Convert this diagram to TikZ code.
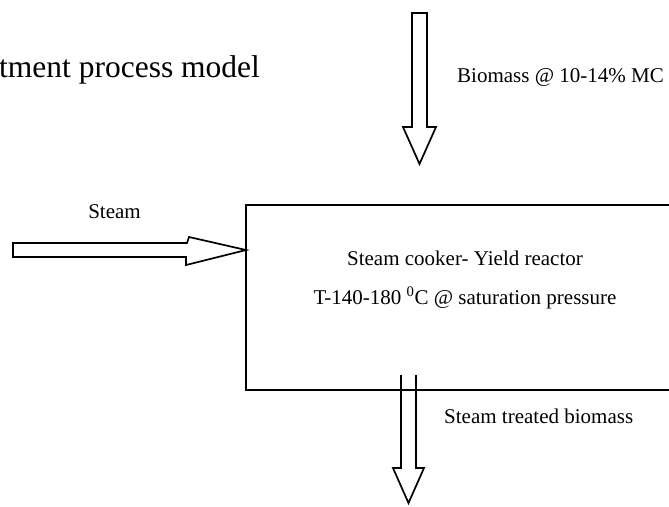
\documentclass[tikz,border=0pt]{standalone}
\usepackage{fontspec}
\setmainfont{Liberation Serif}
\begin{document}
\begin{tikzpicture}[x=1pt,y=-1pt,
  blockarrow/.style={draw=black, line width=1.7pt, fill=white, line join=miter},
  reactorbox/.style={draw=black, line width=1.9pt, fill=none, inner sep=0pt},
  lbl/.style={font=\fontsize{21}{25}\selectfont, inner sep=0pt},
  titlefont/.style={font=\fontsize{31.5}{36}\selectfont, inner sep=0pt}]
\useasboundingbox (0,0) rectangle (669,506);
\clip (0,0) rectangle (669,506);

% title (cut off at the left edge)
\node[titlefont, anchor=base west] (title) at (-1,77) {tment process model};

% reactor box (right edge lies outside the picture)
\node[reactorbox, anchor=north west, minimum width=470pt, minimum height=185pt] (reactor) at (245,204) {};
\node[lbl] (line1) at (465,258) {Steam cooker- Yield reactor};
\node[lbl] (line2) at (465,298) {T-140-180 \textsuperscript{0}C @ saturation pressure};

% biomass feed arrow
\coordinate (feedtop) at (419.5,13);
\coordinate (feedtip) at (419.5,164);
\draw[blockarrow] (412,13) -- (427,13) -- (427,127) -- (436,127) -- (feedtip)
  -- (403,127) -- (412,127) -- cycle;
\node[lbl, anchor=west] (feedlbl) at (457,77) {Biomass @ 10-14\% MC};

% steam arrow
\coordinate (steamtip) at (246,250);
\draw[blockarrow] (13,243) -- (187,243) -- (189,237) -- (steamtip) -- (186,265)
  -- (186,257) -- (13,257) -- cycle;
\node[lbl] (steamlbl) at (114.5,212) {Steam};

% product arrow (open top, inside the box)
\coordinate (prodtip) at (408.5,503);
\draw[blockarrow, fill=none] (401,375) -- (401,468) -- (393,468) -- (prodtip)
  -- (424,468) -- (416,468) -- (416,375);
\node[lbl, anchor=west] (prodlbl) at (444,416) {Steam treated biomass};
\end{tikzpicture}
\end{document}
